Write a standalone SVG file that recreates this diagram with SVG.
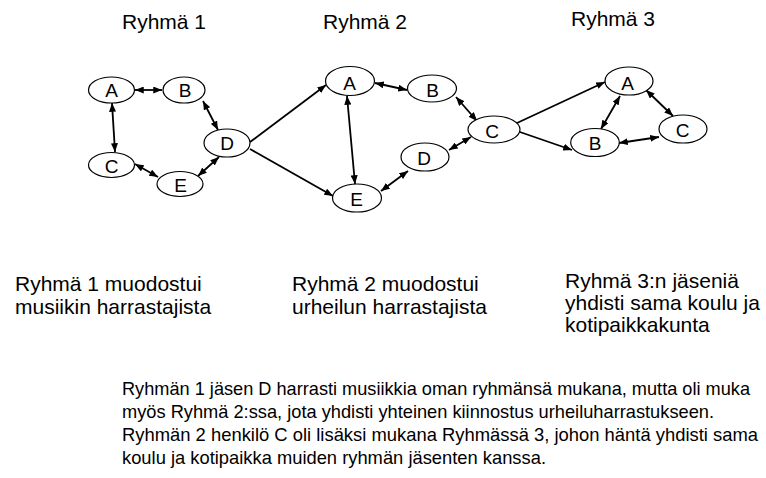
<svg xmlns="http://www.w3.org/2000/svg" width="766" height="478" viewBox="0 0 766 478">
<defs>
<marker id="ah" viewBox="0 0 10 8" refX="10" refY="4" markerWidth="9" markerHeight="7" markerUnits="userSpaceOnUse" orient="auto-start-reverse"><path d="M0,0 L10,4 L0,8 z" fill="#000"/></marker>
<style>
text{font-family:"Liberation Sans",Arial,sans-serif;fill:#000}
.t{font-size:21px}
.p{font-size:18.2px}
.n ellipse{fill:#fff;stroke:#000;stroke-width:1.2}
.n text{font-size:19px;text-anchor:middle}
.e line{stroke:#000;stroke-width:1.8;marker-end:url(#ah)}
.e line.bi{marker-start:url(#ah)}
</style>
</defs>
<rect width="766" height="478" fill="#fff"/>
<g id="titles" class="t">
<text x="122" y="29">Ryhmä 1</text>
<text x="323" y="29">Ryhmä 2</text>
<text x="571" y="26">Ryhmä 3</text>
</g>
<g id="connectors" class="e">
<line class="bi" x1="135" y1="90" x2="162" y2="90"/>
<line class="bi" x1="112" y1="103" x2="115" y2="152"/>
<line class="bi" x1="203" y1="101" x2="218" y2="130"/>
<line class="bi" x1="135" y1="164" x2="158" y2="177"/>
<line class="bi" x1="198" y1="176" x2="219" y2="157"/>
<line x1="250" y1="142" x2="326" y2="85"/>
<line x1="250" y1="149" x2="333" y2="196"/>
<line class="bi" x1="375" y1="83" x2="407" y2="90"/>
<line class="bi" x1="347" y1="96" x2="355" y2="184"/>
<line class="bi" x1="456" y1="97" x2="477" y2="121"/>
<line class="bi" x1="449" y1="150" x2="471" y2="137"/>
<line class="bi" x1="381" y1="191" x2="408" y2="171"/>
<line x1="517" y1="123" x2="605" y2="82"/>
<line x1="517" y1="131" x2="572" y2="150"/>
<line class="bi" x1="620" y1="96" x2="601" y2="129"/>
<line class="bi" x1="646" y1="90" x2="673" y2="116"/>
<line class="bi" x1="619" y1="143" x2="659" y2="137"/>
</g>
<g id="g1A" class="n"><ellipse cx="111.5" cy="90" rx="23" ry="13"/><text x="111.5" y="97">A</text></g>
<g id="g1B" class="n"><ellipse cx="184" cy="90" rx="21" ry="13"/><text x="185" y="97">B</text></g>
<g id="g1D" class="n"><ellipse cx="227" cy="143" rx="23" ry="14"/><text x="227" y="150">D</text></g>
<g id="g1C" class="n"><ellipse cx="111.5" cy="165" rx="23" ry="12.5"/><text x="111.5" y="173">C</text></g>
<g id="g1E" class="n"><ellipse cx="180" cy="184" rx="23" ry="12.5"/><text x="180.5" y="191.5">E</text></g>
<g id="g2A" class="n"><ellipse cx="350" cy="81" rx="24.5" ry="14.5"/><text x="349.5" y="90">A</text></g>
<g id="g2B" class="n"><ellipse cx="432" cy="88.5" rx="24.5" ry="13.5"/><text x="432.5" y="96.5">B</text></g>
<g id="g2C" class="n"><ellipse cx="494" cy="129.5" rx="26" ry="13.5"/><text x="492" y="137.5">C</text></g>
<g id="g2D" class="n"><ellipse cx="425" cy="157" rx="24" ry="14"/><text x="424" y="164.5">D</text></g>
<g id="g2E" class="n"><ellipse cx="357" cy="198" rx="24.5" ry="14"/><text x="356.5" y="206">E</text></g>
<g id="g3A" class="n"><ellipse cx="629" cy="81" rx="24" ry="14"/><text x="627.5" y="89.5">A</text></g>
<g id="g3B" class="n"><ellipse cx="595" cy="142.5" rx="24.3" ry="14"/><text x="595" y="150">B</text></g>
<g id="g3C" class="n"><ellipse cx="683" cy="129" rx="24" ry="14"/><text x="682.5" y="137">C</text></g>
<g id="descriptions" class="t">
<text x="15" y="291">Ryhmä 1 muodostui</text>
<text x="15" y="314">musiikin harrastajista</text>
<text x="292" y="291">Ryhmä 2 muodostui</text>
<text x="292" y="314">urheilun harrastajista</text>
<text x="565" y="288">Ryhmä 3:n jäseniä</text>
<text x="565" y="310">yhdisti sama koulu ja</text>
<text x="565" y="332">kotipaikkakunta</text>
</g>
<g id="summary" class="p">
<text x="122" y="395" textLength="628" lengthAdjust="spacingAndGlyphs">Ryhmän 1 jäsen D harrasti musiikkia oman ryhmänsä mukana, mutta oli muka</text>
<text x="122" y="418" textLength="592" lengthAdjust="spacingAndGlyphs">myös Ryhmä 2:ssa, jota yhdisti yhteinen kiinnostus urheiluharrastukseen.</text>
<text x="122" y="441" textLength="636" lengthAdjust="spacingAndGlyphs">Ryhmän 2 henkilö C oli lisäksi mukana Ryhmässä 3, johon häntä yhdisti sama</text>
<text x="122" y="464" textLength="424" lengthAdjust="spacingAndGlyphs">koulu ja kotipaikka muiden ryhmän jäsenten kanssa.</text>
</g>
</svg>
